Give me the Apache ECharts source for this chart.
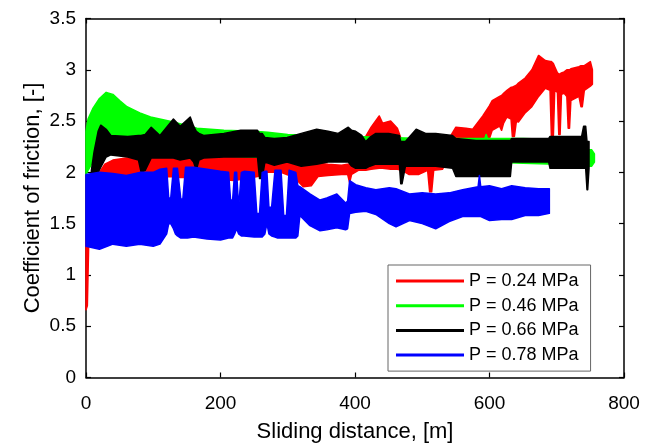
<!DOCTYPE html>
<html>
<head>
<meta charset="utf-8">
<script src="https://cdn.jsdelivr.net/npm/echarts@6/dist/echarts.min.js"></script>
<style>
body { margin: 0; background: #fff; }
#chart { width: 653px; height: 445px; }
</style>
</head>
<body>
<div id="chart"></div>
<script>
// envelopes (lower / upper edge of each noisy trace)
var redX  = [0,2,4,15,28,40,60,80,96,110, 126,140,160,180,200,220,240,255,270,290, 310,323,335,345,360,380,389,392,395,405, 416,424,436,441,453,463,470,480,495,508, 511,514,517,530,540,550,565,575,590,600, 604,615,618,621,626,632,634,637,640,643, 653,663,673,683,690,692,695,697,701,703, 705,707,711,715,717,719,721,733,736,738, 741,750,753];
var redLo = [0.66,0.70,1.30,1.70,1.90,1.94,1.94,1.95,1.94,1.95, 1.96,1.95,1.95,1.94,1.93,1.92,1.94,1.96,2.00,2.00, 1.95,1.86,1.87,1.96,1.97,1.98,1.98,1.90,1.98,2.02, 2.02,2.03,2.04,2.04,2.03,2.03,2.02,1.98,1.98,2.02, 1.81,1.81,2.02,2.03,2.15,2.25,2.28,2.28,2.30,2.33, 2.41,2.45,2.41,2.48,2.54,2.52,2.35,2.35,2.50,2.49, 2.58,2.64,2.74,2.82,2.80,2.36,2.36,2.80,2.78,2.37, 2.37,2.76,2.77,2.74,2.43,2.43,2.70,2.74,2.64,2.64, 2.80,2.84,2.86];
var redHi = [1.30,1.45,1.80,1.95,2.08,2.12,2.14,2.15,2.18,2.20, 2.22,2.22,2.21,2.18,2.17,2.17,2.16,2.14,2.10,2.10, 2.10,2.10,2.09,2.09,2.08,2.07,2.08,2.08,2.08,2.10, 2.35,2.44,2.55,2.48,2.50,2.43,2.30,2.28,2.28,2.28, 2.28,2.28,2.28,2.30,2.33,2.44,2.43,2.42,2.55,2.65, 2.70,2.74,2.75,2.77,2.80,2.83,2.83,2.84,2.85,2.87, 2.92,3.00,3.14,3.09,3.08,3.08,3.06,3.03,2.97,2.96, 2.96,2.97,2.98,3.00,3.00,3.00,3.01,3.03,3.04,3.04, 3.04,3.08,3.00];

var greenX  = [0,3,10,20,30,40,50,61,80,96, 130,165,205,250,270,300,350,400,450,500, 550,593,595,597,650,700,740,745,752,756];
var greenLo = [1.98,2.02,2.10,2.15,2.18,2.20,2.20,2.20,2.20,2.19, 2.18,2.17,2.16,2.15,2.14,2.13,2.12,2.12,2.12,2.11, 2.10,2.10,2.10,2.10,2.09,2.08,2.07,2.06,2.06,2.10];
var greenHi = [2.40,2.52,2.62,2.72,2.78,2.76,2.70,2.64,2.58,2.54, 2.49,2.43,2.41,2.40,2.39,2.37,2.36,2.35,2.34,2.33, 2.33,2.33,2.37,2.33,2.33,2.32,2.31,2.22,2.22,2.18];

var blackX  = [8,12,18,22,30,37,62,78,82,88, 97,110,130,140,155,160,164,168,175,205, 230,255,258,262,266,280,299,320,343,360, 375,390,395,401,410,416,422,431,450,466, 468,470,475,491,505,520,545,550,565,580, 595,610,631,633,660,688,690,715,737,740, 743,745,746,748];
var blackLo = [1.98,1.98,2.00,2.05,2.15,2.17,2.15,2.12,2.00,2.02, 2.14,2.14,2.14,2.12,2.14,2.10,2.02,2.12,2.14,2.15, 2.15,2.15,1.94,1.94,2.10,2.07,2.10,2.06,2.08,2.10, 2.10,2.10,2.06,2.04,2.04,2.04,2.06,2.08,2.08,2.08, 1.89,1.89,2.06,2.06,2.06,2.06,2.04,1.96,1.96,1.96, 1.96,1.96,1.96,2.10,2.10,2.10,2.04,2.04,2.04,2.04, 2.04,1.83,1.83,2.04];
var blackHi = [2.02,2.20,2.40,2.46,2.42,2.36,2.35,2.36,2.36,2.37, 2.44,2.36,2.52,2.45,2.54,2.45,2.40,2.38,2.36,2.38, 2.41,2.41,2.38,2.38,2.34,2.33,2.34,2.38,2.42,2.40, 2.38,2.44,2.41,2.40,2.36,2.30,2.34,2.38,2.38,2.36, 2.30,2.30,2.30,2.42,2.38,2.38,2.36,2.33,2.32,2.31, 2.31,2.31,2.31,2.33,2.33,2.33,2.35,2.35,2.35,2.45, 2.45,2.30,2.30,2.30];

var blueX  = [0,20,40,60,80,100,110,120,123,126, 130,133,136,141,144,148,151,160,180,200, 212,215,218,221,224,227,231,235,250,254, 258,262,266,269,272,276,281,285,290,294, 298,302,312,315,318,333,348,358,373,386, 389,392,401,416,431,451,461,481,500,520, 540,560,583,585,587,600,618,633,653,673, 689];
var blueLo = [1.28,1.25,1.30,1.28,1.30,1.28,1.30,1.40,1.50,1.50, 1.45,1.40,1.38,1.36,1.36,1.36,1.36,1.37,1.35,1.34, 1.36,1.36,1.36,1.40,1.45,1.40,1.38,1.38,1.37,1.37, 1.37,1.37,1.40,1.50,1.40,1.38,1.37,1.36,1.36,1.36, 1.36,1.36,1.36,1.38,1.58,1.48,1.43,1.44,1.46,1.44, 1.45,1.60,1.61,1.62,1.59,1.50,1.47,1.53,1.50,1.45, 1.52,1.57,1.57,1.57,1.57,1.53,1.54,1.54,1.58,1.58, 1.60];
var blueHi = [1.98,2.00,1.99,1.97,2.00,2.00,2.03,2.04,1.75,1.75, 2.04,2.04,2.04,1.74,1.74,2.05,2.05,2.05,2.03,2.01, 2.00,1.73,1.73,2.00,2.00,1.66,2.00,2.01,2.00,1.60, 1.60,2.00,2.01,2.01,1.66,1.66,2.02,2.02,2.02,1.58, 1.58,2.02,2.00,1.87,1.86,1.79,1.73,1.75,1.79,1.70, 1.72,1.92,1.88,1.85,1.83,1.85,1.84,1.79,1.80,1.79, 1.80,1.83,1.86,1.97,1.86,1.87,1.84,1.87,1.85,1.84, 1.84];

var seriesNames = ['P = 0.24 MPa', 'P = 0.46 MPa', 'P = 0.66 MPa', 'P = 0.78 MPa'];
var seriesColors = ['#ff0000', '#00ff00', '#000000', '#0000ff'];

var font = 'Liberation Sans, Arial, sans-serif';

function rows(xs, lo, hi) {
  var out = [];
  for (var i = 0; i < xs.length; i++) out.push([xs[i], lo[i], hi[i]]);
  return out;
}

// one polygon per trace: upper edge left->right, lower edge right->left
function bandRenderer(color) {
  return function (params, api) {
    if (params.dataIndexInside !== 0) return null;
    var n = params.dataInsideLength;
    var top = [], bottom = [];
    for (var i = 0; i < n; i++) {
      var x = api.value(0, i);
      top.push(api.coord([x, api.value(2, i)]));
      bottom.push(api.coord([x, api.value(1, i)]));
    }
    return {
      type: 'polygon',
      shape: { points: top.concat(bottom.reverse()) },
      style: { fill: color, stroke: color, lineWidth: 1.5, lineJoin: 'round' }
    };
  };
}

var bands = [rows(redX, redLo, redHi), rows(greenX, greenLo, greenHi),
             rows(blackX, blackLo, blackHi), rows(blueX, blueLo, blueHi)];

var series = [];
for (var s = 0; s < 4; s++) {
  series.push({
    name: seriesNames[s],
    type: 'custom',
    renderItem: bandRenderer(seriesColors[s]),
    itemStyle: { color: seriesColors[s] },
    encode: { x: 0, y: [1, 2] },
    data: bands[s],
    silent: true
  });
}

var axisLine = { show: true, onZero: false, lineStyle: { color: '#000', width: 1.5 } };
var axisTick = { show: true, inside: true, length: 5, lineStyle: { color: '#000', width: 1.2 } };

var myChart = echarts.init(document.getElementById('chart'));
var option = {
  animation: false,
  backgroundColor: '#fff',
  grid: { left: 86, right: 29, top: 18.5, bottom: 67.5, containLabel: false, outerBoundsMode: 'none' },
  legend: {
    data: seriesNames,
    orient: 'vertical',
    left: 388,
    top: 265,
    icon: 'rect',
    itemWidth: 68,
    itemHeight: 3,
    itemGap: 6.7,
    padding: [7, 12, 7, 8],
    borderColor: '#666',
    borderWidth: 1,
    borderRadius: 0,
    backgroundColor: '#fff',
    textStyle: { color: '#000', fontSize: 18, fontFamily: font }
  },
  xAxis: [{
    type: 'value', min: 0, max: 800, interval: 200,
    axisLine: axisLine, axisTick: axisTick, splitLine: { show: false },
    axisLabel: { color: '#000', fontSize: 19, fontFamily: font, margin: 17 },
    name: 'Sliding distance, [m]', nameLocation: 'middle', nameGap: 43,
    nameTextStyle: { color: '#000', fontSize: 22, fontFamily: font }
  }, {
    type: 'value', position: 'top', min: 0, max: 800, interval: 200,
    axisLine: axisLine, axisTick: axisTick, splitLine: { show: false },
    axisLabel: { show: false }
  }],
  yAxis: [{
    type: 'value', min: 0, max: 3.5, interval: 0.5,
    axisLine: axisLine, axisTick: axisTick, splitLine: { show: false },
    axisLabel: { color: '#000', fontSize: 19, fontFamily: font, margin: 10 },
    name: 'Coefficient of friction, [-]', nameLocation: 'middle', nameGap: 42,
    nameMoveOverlap: false,
    nameTextStyle: { color: '#000', fontSize: 22, fontFamily: font }
  }, {
    type: 'value', position: 'right', min: 0, max: 3.5, interval: 0.5,
    axisLine: axisLine, axisTick: axisTick, splitLine: { show: false },
    axisLabel: { show: false }
  }],
  series: series
};
myChart.setOption(option);
</script>
</body>
</html>
